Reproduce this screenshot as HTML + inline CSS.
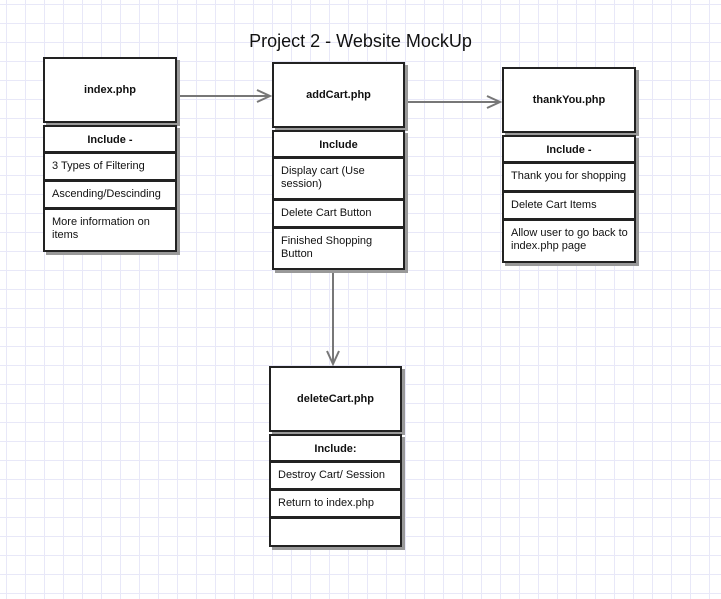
<!DOCTYPE html>
<html><head><style>
body{margin:0;width:721px;height:599px;overflow:hidden;position:relative;font-family:"Liberation Sans",Arial,sans-serif;
background-color:#fff;
background-image:linear-gradient(to right,#e8e8f8 1px,transparent 1px),linear-gradient(to bottom,#e8e8f8 1px,transparent 1px);
background-size:19px 19px;background-position:6px 4px;}
.b{position:absolute;background:#fff;border:2px solid #222;box-shadow:3px 3px 0 #999;box-sizing:border-box;font-size:11px;color:#111;}
.h{display:flex;align-items:center;justify-content:center;font-weight:bold;font-size:11px;}
.c{text-align:center;font-weight:bold;padding-top:7px;}
.r{padding:6px 6px 0 7px;line-height:13px;}
.t{position:absolute;left:0;width:721px;top:31px;text-align:center;font-size:18px;color:#111;}
</style></head><body>
<div class="t">Project 2 - Website MockUp</div>
<svg width="721" height="599" style="position:absolute;left:0;top:0">
<g stroke="#777" stroke-width="2" fill="none">
<line x1="178" y1="96" x2="270" y2="96"/><polyline points="257,90 270,96 257,102"/>
<line x1="406" y1="102" x2="500" y2="102"/><polyline points="487,96 500,102 487,108"/>
<line x1="333" y1="271" x2="333" y2="364"/><polyline points="327,351 333,364 339,351"/>
</g></svg>

<div class="b h" style="left:43px;top:57px;width:134px;height:66px">index.php</div>
<div class="b c" style="left:43px;top:125px;width:134px;height:28px">Include -</div>
<div class="b r" style="left:43px;top:152px;width:134px;height:29px">3 Types of Filtering</div>
<div class="b r" style="left:43px;top:180px;width:134px;height:29px">Ascending/Descinding</div>
<div class="b r" style="left:43px;top:208px;width:134px;height:44px">More information on items</div>

<div class="b h" style="left:272px;top:62px;width:133px;height:66px">addCart.php</div>
<div class="b c" style="left:272px;top:130px;width:133px;height:28px">Include</div>
<div class="b r" style="left:272px;top:157px;width:133px;height:43px">Display cart (Use session)</div>
<div class="b r" style="left:272px;top:199px;width:133px;height:29px">Delete Cart Button</div>
<div class="b r" style="left:272px;top:227px;width:133px;height:43px">Finished Shopping Button</div>

<div class="b h" style="left:502px;top:67px;width:134px;height:66px">thankYou.php</div>
<div class="b c" style="left:502px;top:135px;width:134px;height:28px">Include -</div>
<div class="b r" style="left:502px;top:162px;width:134px;height:30px">Thank you for shopping</div>
<div class="b r" style="left:502px;top:191px;width:134px;height:29px">Delete Cart Items</div>
<div class="b r" style="left:502px;top:219px;width:134px;height:44px">Allow user to go back to index.php page</div>

<div class="b h" style="left:269px;top:366px;width:133px;height:66px">deleteCart.php</div>
<div class="b c" style="left:269px;top:434px;width:133px;height:28px">Include:</div>
<div class="b r" style="left:269px;top:461px;width:133px;height:29px">Destroy Cart/ Session</div>
<div class="b r" style="left:269px;top:489px;width:133px;height:29px">Return to index.php</div>
<div class="b r" style="left:269px;top:517px;width:133px;height:30px"></div>
</body></html>
